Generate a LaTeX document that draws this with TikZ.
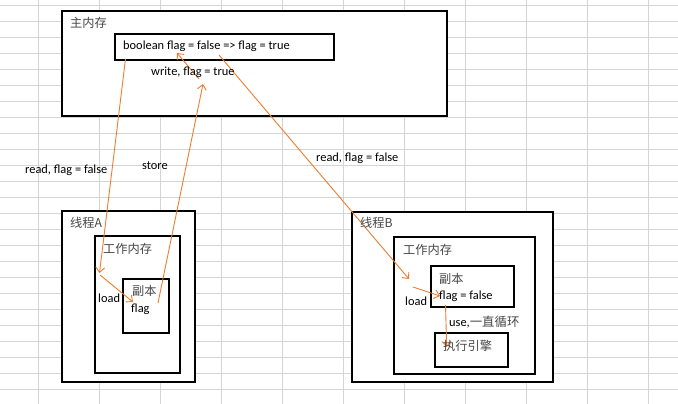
\documentclass[tikz,border=0pt]{standalone}
\usepackage{fontspec}
\setmainfont{Carlito}
\newfontfamily\cjk{Noto Sans CJK SC}
\usetikzlibrary{arrows.meta}
\definecolor{gridc}{RGB}{212,212,212}
\definecolor{orangeln}{RGB}{237,125,49}
\definecolor{cjkgray}{RGB}{70,70,70}
\tikzset{
  gridln/.style={draw=gridc, line width=1pt},
  boxn/.style={draw=black, fill=white, line width=1.2pt, rectangle, inner sep=0pt, outer sep=0pt, anchor=north west},
  txt/.style={inner sep=0pt, anchor=base west, font=\fontsize{12.4}{14}\selectfont},
  ctxt/.style={txt, text=cjkgray, font=\fontsize{12.2}{14}\selectfont\cjk},
  arr/.style={draw=orangeln, line width=0.9pt, -{Straight Barb[length=5pt,width=9pt]}}
}
\begin{document}
\begin{tikzpicture}[x=1pt,y=-1pt]
\useasboundingbox (0,0) rectangle (678,404);
\fill[white] (0,0) rectangle (678,404);
% spreadsheet grid
\foreach \i in {0,...,10} {\draw[gridln] ({38.3+61*\i},0) -- ++(0,404);}
\foreach \j in {0,...,24} {\draw[gridln] (0,{5.6+16*\j}) -- ++(678,0);}
% boxes
\node[boxn, minimum width=385, minimum height=105] (main) at (62,11) {};
\node[boxn, minimum width=219, minimum height=26] (inner) at (115,34) {};
\node[boxn, minimum width=133, minimum height=171] (thA) at (62,211) {};
\node[boxn, minimum width=85, minimum height=137] (wmA) at (95,236) {};
\node[boxn, minimum width=46, minimum height=54] (cpA) at (123,279) {};
\node[boxn, minimum width=201, minimum height=170] (thB) at (352,212) {};
\node[boxn, minimum width=141, minimum height=137] (wmB) at (394,237) {};
\node[boxn, minimum width=83, minimum height=41] (cpB) at (431,266) {};
\node[boxn, minimum width=73, minimum height=34] (eng) at (435,333) {};
% connector end points
\coordinate (rA0) at (125.5,59);
\coordinate (rA1) at (99.5,273);
\coordinate (lA0) at (100,275);
\coordinate (lA1) at (133,302);
\coordinate (sA0) at (158,303);
\coordinate (sA1) at (203,84);
\coordinate (w0) at (199,79);
\coordinate (w1) at (177,53);
\coordinate (rB0) at (219,55);
\coordinate (rB1) at (409,279);
\coordinate (lB0) at (413,287);
\coordinate (lB1) at (440,296);
\coordinate (u0) at (445.5,305);
\coordinate (u1) at (446.7,347);
% connectors
\draw[arr] (rA0) -- (rA1);
\draw[arr] (lA0) -- (lA1);
\draw[arr] (sA0) -- (sA1);
\draw[arr] (w0) -- (w1);
\draw[arr] (rB0) -- (rB1);
\draw[arr] (lB0) -- (lB1);
\draw[arr] (u0) -- (u1);
% texts
\node[ctxt] (tmain) at (70,28) {主内存};
\node[txt] (tbool) at (123,50) {boolean flag = false => flag = true};
\node[txt] (twrite) at (151,76) {write, flag = true};
\node[txt] (treadA) at (25,173) {read, flag = false};
\node[txt] (tstore) at (142,169) {store};
\node[txt] (treadB) at (316,161) {read, flag = false};
\node[ctxt] (tthA) at (70,227.5) {线程A};
\node[ctxt] (twmA) at (103,253.5) {工作内存};
\node[ctxt] (tcpA) at (132,295) {副本};
\node[txt] (tflagA) at (131,312) {flag};
\node[txt] (tloadA) at (98,302) {load};
\node[ctxt] (tthB) at (360,227.5) {线程B};
\node[ctxt] (twmB) at (403,254.5) {工作内存};
\node[ctxt] (tcpB) at (439,283) {副本};
\node[txt] (tflagB) at (439,299) {flag = false};
\node[txt] (tloadB) at (405,305) {load};
\node[txt] (tuse) at (449,326.5) {use,{\cjk\color{cjkgray}一直循环}};
\node[ctxt] (teng) at (443,350) {执行引擎};
\end{tikzpicture}
\end{document}
